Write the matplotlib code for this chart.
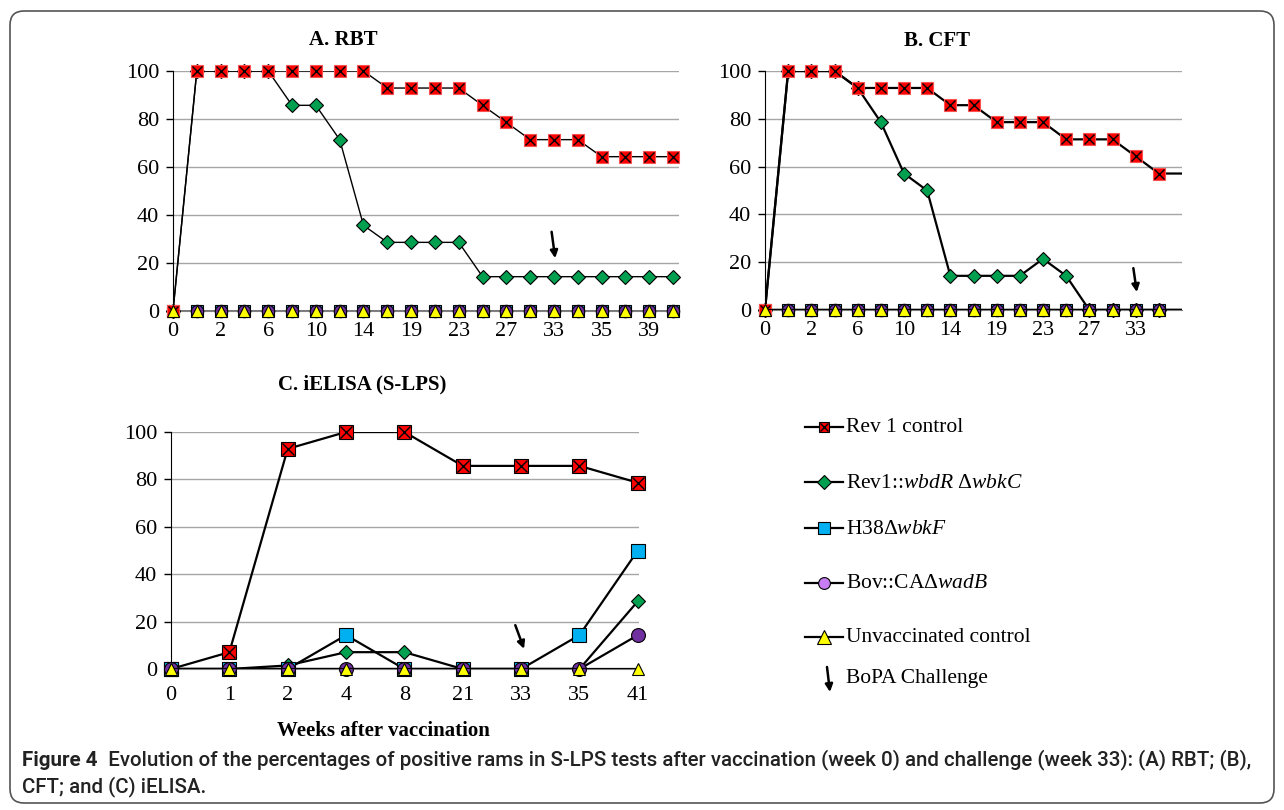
import matplotlib.pyplot as plt
from matplotlib.patches import FancyBboxPatch

plt.rcParams['font.family'] = ['Liberation Serif', 'DejaVu Serif']
plt.rcParams['mathtext.fontset'] = 'custom'
plt.rcParams['mathtext.rm'] = 'Liberation Serif'
plt.rcParams['mathtext.it'] = 'Liberation Serif:italic'

# ---- data (percent positive rams) ----
series_names = ['Rev 1 control', 'Rev1::$\\mathit{wbdR}$ \u0394$\\mathit{wbkC}$',
                'H38\u0394$\\mathit{wbkF}$', 'Bov::CA\u0394$\\mathit{wadB}$',
                'Unvaccinated control']
challenge_week = '33'

a_labels = ['0', '', '2', '', '6', '', '10', '', '14', '', '19', '',
            '23', '', '27', '', '33', '', '35', '', '39', '']
a_rev1 = [0, 100, 100, 100, 100, 100, 100, 100, 100, 92.9, 92.9, 92.9,
          92.9, 85.7, 78.6, 71.4, 71.4, 71.4, 64.3, 64.3, 64.3, 64.3]
a_wbdr = [0, 100, 100, 100, 100, 85.7, 85.7, 71.4, 35.7, 28.6, 28.6, 28.6,
          28.6, 14.3, 14.3, 14.3, 14.3, 14.3, 14.3, 14.3, 14.3, 14.3]
a_h38 = [0] * 22
a_bov = [0] * 22
a_unvac = [0] * 22

b_labels = ['0', '', '2', '', '6', '', '10', '', '14', '', '19', '',
            '23', '', '27', '', '33', '', '']
b_rev1 = [0, 100, 100, 100, 92.9, 92.9, 92.9, 92.9, 85.7, 85.7, 78.6, 78.6,
          78.6, 71.4, 71.4, 71.4, 64.3, 57.1, 57.1]
b_wbdr = [0, 100, 100, 100, 92.9, 78.6, 57.1, 50, 14.3, 14.3, 14.3, 14.3,
          21.4, 14.3, 0, 0, 0, 0, 0]
b_h38 = [0] * 19
b_bov = [0] * 19
b_unvac = [0] * 19

c_labels = ['0', '1', '2', '4', '8', '21', '33', '35', '41']
c_rev1 = [0, 7.1, 92.9, 100, 100, 85.7, 85.7, 85.7, 78.6]
c_wbdr = [0, 0, 1.5, 7.1, 7.1, 0, 0, 0, 28.6]
c_h38 = [0, 0, 0, 14.3, 0, 0, 0, 14.3, 50]
c_bov = [0, 0, 0, 0, 0, 0, 0, 0, 14.3]
c_unvac = [0] * 9

# marker look for each series: (marker, face colour, size factor)
looks = [('s', '#FF0000', 1.0), ('D', '#00A050', 0.8), ('s', '#00B0F0', 1.0),
         ('o', '#7030A0', 1.05), ('^', '#FFFF00', 0.95)]

W, H = 1284, 810
fig = plt.figure(figsize=(W / 100, H / 100), dpi=100)


def px_axes(left, top, right, bottom):
    return fig.add_axes([left / W, 1 - bottom / H, (right - left) / W, (bottom - top) / H])


def panel(ax, labels, data, xmax, lw, ms, zorders, arrow_y, xpad, red_edge):
    x = list(range(len(labels)))
    ax.set_xlim(0, xmax)
    ax.set_ylim(0, 100)
    shown = [i for i in x if i <= xmax]
    for i, vals in enumerate(data):
        m, fc, f = looks[i]
        mec = red_edge if i == 0 else 'black'
        # the line is clipped at the axis edge, the markers are not
        ax.plot(x, vals, color='black', lw=lw, zorder=zorders[i], clip_on=True)
        ax.plot(shown, [vals[j] for j in shown], ls='none', marker=m, mfc=fc,
                mec=mec, mew=0.8, ms=ms * f, zorder=zorders[i], clip_on=False)
        if i == 0:
            ax.plot(shown, [vals[j] for j in shown], ls='none', marker='x',
                    color='black', ms=ms * 0.85, mew=1.0, zorder=zorders[i] + 0.5,
                    clip_on=False)
    ax.set_yticks(range(0, 101, 20))
    ax.set_xticks(x)
    ax.set_xticklabels(labels)
    ax.grid(axis='y', color='#A6A6A6', lw=1)
    ax.set_axisbelow(True)
    for s in ['top', 'right']:
        ax.spines[s].set_visible(False)
    ax.spines['left'].set_color('black')
    ax.spines['bottom'].set_color('#808080')
    ax.tick_params(axis='y', length=5, width=1, pad=5, labelsize=16)
    ax.tick_params(axis='x', length=0, pad=xpad, labelsize=16)
    k = labels.index(challenge_week)
    ax.annotate('', xy=(k + 0.05, arrow_y[1]), xytext=(k - 0.1, arrow_y[0]),
                arrowprops=dict(arrowstyle='-|>', color='black', lw=1.8,
                                mutation_scale=11, shrinkA=0, shrinkB=0))


ax_a = px_axes(173, 71, 679, 311)
panel(ax_a, a_labels, [a_rev1, a_wbdr, a_h38, a_bov, a_unvac], 21.25, 1.0, 8.5,
      [6, 3, 4, 5, 7], (33, 22), 8, '#FF5050')
ax_b = px_axes(765, 71, 1182, 310)
panel(ax_b, b_labels, [b_rev1, b_wbdr, b_h38, b_bov, b_unvac], 17.55, 1.6, 8.5,
      [6, 3, 4, 5, 7], (17.5, 7.5), 8, '#FF5050')
ax_c = px_axes(171, 432, 639, 669)
panel(ax_c, c_labels, [c_rev1, c_wbdr, c_h38, c_bov, c_unvac], 8.02, 1.6, 9.5,
      [3, 4, 5, 6, 7], (18.5, 8.5), 12, 'black')

# overlay in pixel coordinates for titles, legend, caption and frame
ov = fig.add_axes([0, 0, 1, 1], zorder=-1)
ov.set_xlim(0, W)
ov.set_ylim(H, 0)
ov.axis('off')

ov.add_patch(FancyBboxPatch((10, 11), 1264, 792, boxstyle='round,pad=0,rounding_size=14',
                            fill=False, ec='#555555', lw=1.2))
ov.text(343, 40, 'A. RBT', ha='center', va='center', fontsize=15, fontweight='bold')
ov.text(937, 41, 'B. CFT', ha='center', va='center', fontsize=15, fontweight='bold')
ov.text(362, 384, 'C. iELISA (S-LPS)', ha='center', va='center', fontsize=15, fontweight='bold')
ov.text(383, 731, 'Weeks after vaccination', ha='center', va='center', fontsize=15,
        fontweight='bold')

# legend
leg_y = [427, 482, 528, 583, 637]
leg_ms = [7.5, 6.8, 8, 8.5, 9.5]
leg_col = ['#FF0000', '#00A050', '#00B0F0', '#C77DF3', '#FFFF00']
for i, name in enumerate(series_names):
    y = leg_y[i]
    ov.plot([805, 843], [y, y], color='black', lw=1.6)
    ov.plot([824], [y], marker=looks[i][0], mfc=leg_col[i], mec='black', mew=0.8,
            ms=leg_ms[i])
    if i == 0:
        ov.plot([824], [y], marker='x', color='black', ms=leg_ms[i] * 0.85, mew=1.0)
    ov.text(846, y + 1, name, va='center', ha='left', fontsize=15.5)
ov.annotate('', xy=(830, 692), xytext=(827, 667),
            arrowprops=dict(arrowstyle='-|>', color='black', lw=1.8, mutation_scale=11,
                            shrinkA=0, shrinkB=0))
ov.text(846, 679, 'BoPA Challenge', va='center', ha='left', fontsize=15.5)

# caption
cap_font = ['Roboto', 'DejaVu Sans']
t1 = ov.text(22, 760, 'Figure 4', va='center', ha='left', fontsize=14.8,
             fontweight='bold', family=cap_font, color='#222222')
ov.annotate('  Evolution of the percentages of positive rams in S-LPS tests after vaccination '
            '(week 0) and challenge (week 33): (A) RBT; (B),',
            xy=(1, 0.5), xycoords=t1, va='center', ha='left', fontsize=14.8,
            fontweight='medium', family=cap_font, color='#222222')
ov.text(22, 787, 'CFT; and (C) iELISA.', va='center', ha='left', fontsize=14.8,
        fontweight='medium', family=cap_font, color='#222222')

fig.savefig('out.png', dpi=100)
